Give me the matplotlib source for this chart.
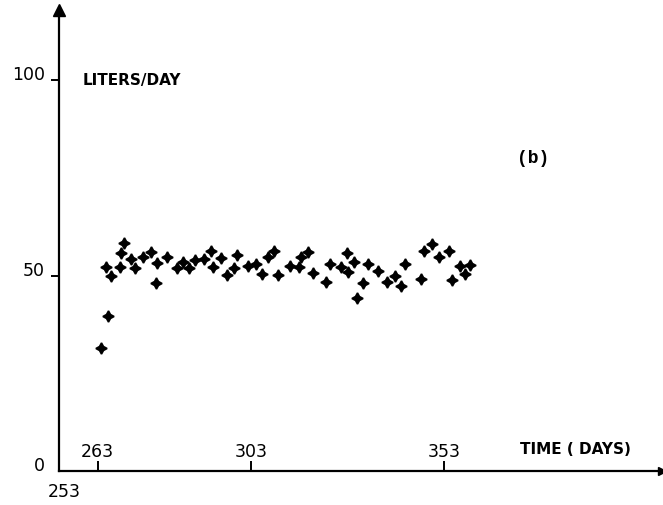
import matplotlib
matplotlib.use("Agg")
import matplotlib.pyplot as plt

# Data (day, liters/day)
days = [263.8, 265.8, 265.2, 266.4, 268.8, 269.0, 269.9, 271.6, 272.7, 274.9,
        276.9, 278.4, 278.2, 281.1, 283.6, 285.3, 286.8, 288.3, 290.7, 292.5,
        293.1, 295.0, 296.6, 298.5, 299.2, 302.0, 304.1, 305.6, 307.2, 308.8,
        310.0, 313.0, 315.4, 315.9, 317.8, 319.1, 322.4, 323.4, 326.2, 327.7,
        328.1, 329.6, 330.3, 331.9, 333.3, 335.9, 338.1, 340.3, 341.8, 342.9,
        347.0, 347.9, 349.9, 351.8, 354.4, 355.0, 357.2, 358.5, 359.8]
liters = [31.4, 39.6, 52.3, 49.9, 52.1, 55.8, 58.3, 54.1, 51.8, 54.7,
          56.1, 53.1, 48.0, 54.7, 52.0, 53.4, 51.8, 54.0, 54.1, 56.3,
          52.1, 54.4, 50.1, 51.8, 55.3, 52.4, 52.9, 50.3, 54.7, 56.3,
          50.1, 52.5, 52.1, 54.7, 56.1, 50.6, 48.4, 52.9, 52.1, 55.7,
          51.0, 53.4, 44.3, 48.2, 52.9, 51.2, 48.3, 49.9, 47.3, 52.9,
          49.1, 56.3, 58.1, 54.7, 56.3, 48.8, 52.4, 50.4, 52.7]

x_ticks = [263, 303, 353]
x_ticklabels = ["263", "303", "353"]
y_ticks = [0, 50, 100]
y_ticklabels = ["0", "50", "100"]

W, H = 663, 505
fig = plt.figure(figsize=(W / 100, H / 100), dpi=100)
left, bottom = 59 / W, 34 / H
ax = fig.add_axes([left, bottom, 603 / W, 461 / H])

ax.plot(days, liters, linestyle="none", marker=(4, 1, 0), markersize=8,
        color="black", markeredgewidth=1.2)

ax.set_xlim(253, 253 + 603 / 3.85)
ax.set_ylim(0, 461 / 3.91)

for s in ["top", "right"]:
    ax.spines[s].set_visible(False)
for s in ["left", "bottom"]:
    ax.spines[s].set_linewidth(1.6)
    ax.spines[s].set_color("black")

# arrows at ends of axes
ax.plot(1, 0, marker=">", color="black", markersize=6, transform=ax.transAxes, clip_on=False)
ax.plot(0, 1, marker="^", color="black", markersize=8, transform=ax.transAxes, clip_on=False)

ax.set_xticks(x_ticks)
ax.set_xticklabels(x_ticklabels, fontsize=12.5, family="DejaVu Sans")
ax.tick_params(axis="x", direction="in", length=7, width=1.4, pad=-20)

ax.set_yticks(y_ticks)
ax.set_yticklabels(y_ticklabels, fontsize=12.5, family="DejaVu Sans", va="baseline")
ax.tick_params(axis="y", direction="out", length=6, width=1.4, pad=4)
ax.yaxis.get_major_ticks()[0].tick1line.set_visible(False)

ax.text(254.3, -3, "253", fontsize=12.5, ha="center", va="top", clip_on=False)

ax.text(0.04, 100, "LITERS/DAY", transform=ax.get_yaxis_transform(),
        fontsize=11, fontweight="bold", ha="left", va="center")
ax.text(0.765, 5.6, "TIME ( DAYS)", transform=ax.get_yaxis_transform(),
        fontsize=11, fontweight="bold", ha="left", va="center")
ax.text(0.787, 80, "(b)", transform=ax.get_yaxis_transform(),
        fontsize=13, fontweight="bold", family="Liberation Mono", ha="center", va="center")

fig.savefig("out.png", dpi=100)
